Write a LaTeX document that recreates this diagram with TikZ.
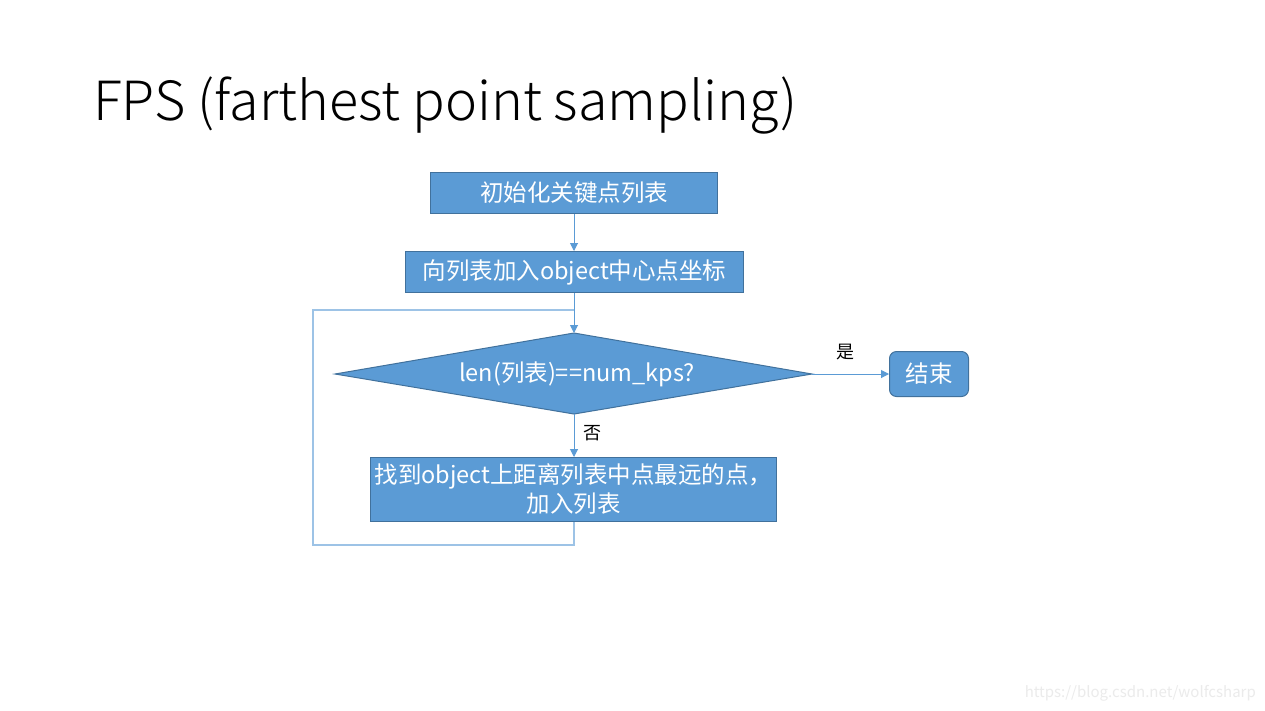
\documentclass[tikz,border=0pt]{standalone}
\usepackage{fontspec}
\setmainfont{Noto Sans CJK SC}
\newfontfamily\titlefont{Noto Sans CJK SC Light}
\usetikzlibrary{arrows.meta}
\definecolor{boxfill}{HTML}{5B9BD5}
\definecolor{boxline}{HTML}{41719C}
\definecolor{loopline}{HTML}{9DC3E6}
\begin{document}
\begin{tikzpicture}[x=1pt,y=-1pt,
  stepbox/.style={draw=boxline,fill=boxfill,line width=1pt,text=white,
    font=\fontsize{23.5}{29}\selectfont,inner sep=0pt,anchor=north west,align=center},
  conn/.style={draw=boxfill,line width=1pt,-{Triangle[length=8pt,width=8pt]}},
  loopconn/.style={draw=loopline,line width=1.2pt},
  lbl/.style={font=\fontsize{18}{20}\selectfont,text=black}]
\useasboundingbox (0,0) rectangle (1265,710);
\fill[white] (0,0) rectangle (1265,710);
\node[anchor=base west,inner sep=0pt,font=\titlefont\fontsize{54}{58}\selectfont] (title) at (93,120) {FPS (farthest point sampling)};
\node[stepbox,minimum width=287pt,minimum height=41pt] (b1) at (430,172) {初始化关键点列表};
\node[stepbox,minimum width=338pt,minimum height=41pt] (b2) at (405,251) {向列表加入object中心点坐标};
% decision diamond
\coordinate (dN) at (574,333);
\coordinate (dS) at (574,414);
\coordinate (dW) at (335,374);
\coordinate (dE) at (812,374);
\draw[draw=boxline,fill=boxfill,line width=1pt] (dN) -- (dE) -- (dS) -- (dW) -- cycle;
\node[text=white,inner sep=0pt,font=\fontsize{23.5}{29}\selectfont] (d) at (577,374) {len(列表)==num\_kps?};
\node[stepbox,rounded corners=7pt,minimum width=79pt,minimum height=45pt] (e) at (889,351) {结束};
\node[stepbox,minimum width=406pt,minimum height=64pt] (b3) at (370,457) {找到object上距离列表中点最远的点，\\加入列表};
\coordinate (lb) at (313,545);
\coordinate (lt) at (313,310);
\draw[conn] (b1.south -| dN) -- (b2.north -| dN);
\draw[conn] (b2.south -| dN) -- (dN);
\draw[conn] (dE) -- (e.west);
\draw[conn] (dS) -- (b3.north -| dS);
\draw[loopconn] (b3.south -| dS) |- (lb) -- (lt) -- (lt -| dN);
\node[lbl] (yes) at (845,352) {是};
\node[lbl] (no) at (592,433) {否};
\node[anchor=base east,inner sep=0pt,text=black!8,font=\fontsize{15}{16}\selectfont] (wm) at (1256,697) {https://blog.csdn.net/wolfcsharp};
\end{tikzpicture}
\end{document}
